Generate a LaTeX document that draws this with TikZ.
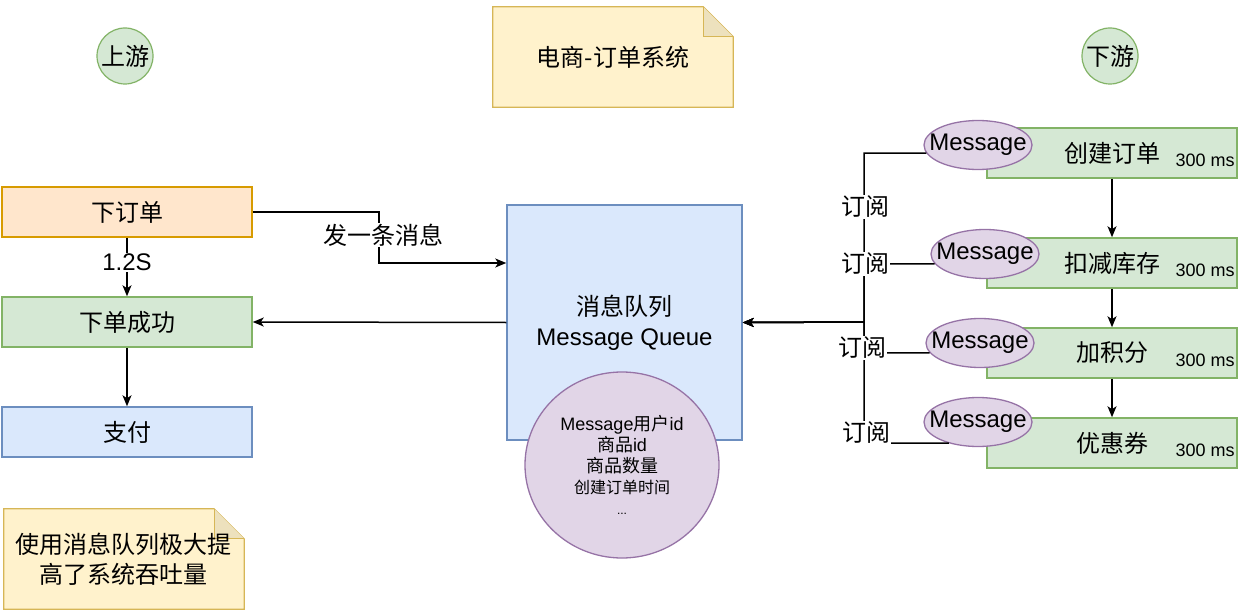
\documentclass[tikz,border=0pt]{standalone}
\usepackage{fontspec}
\setmainfont{Liberation Sans}
\newfontfamily\cjk{Noto Sans CJK SC}
\usetikzlibrary{positioning,calc,arrows.meta,backgrounds,shapes.geometric}
\definecolor{greenfill}{HTML}{D5E8D4}
\definecolor{greenline}{HTML}{82B366}
\definecolor{orangefill}{HTML}{FFE6CC}
\definecolor{orangeline}{HTML}{D79B00}
\definecolor{bluefill}{HTML}{DAE8FC}
\definecolor{blueline}{HTML}{6C8EBF}
\definecolor{purplefill}{HTML}{E1D5E7}
\definecolor{purpleline}{HTML}{9673A6}
\definecolor{notefill}{HTML}{FFF2CC}
\definecolor{noteline}{HTML}{D6B656}
\definecolor{foldfill}{HTML}{EDE1BD}
\newcommand{\fsbig}{\fontsize{24}{30}\selectfont}
\newcommand{\fsmid}{\fontsize{18}{21}\selectfont}
\tikzset{
  box/.style={draw, line width=1.5pt, minimum width=250pt, minimum height=50pt,
    inner sep=0pt, font=\fsbig\cjk},
  greenbox/.style={box, fill=greenfill, draw=greenline},
  orangebox/.style={box, fill=orangefill, draw=orangeline},
  bluebox/.style={box, fill=bluefill, draw=blueline},
  msgball/.style={ellipse, draw=purpleline, fill=purplefill, line width=1.3pt,
    minimum width=108pt, minimum height=49pt, inner xsep=-22pt, inner ysep=-2pt,
    font=\fsbig},
  tagball/.style={circle, draw=greenline, fill=greenfill, line width=1.2pt,
    minimum size=56pt, inner sep=0pt, font=\fsbig\cjk},
  notebox/.style={minimum width=240pt, minimum height=100pt, inner sep=0pt,
    align=center, font=\fsbig\cjk},
  flow/.style={line width=1.5pt, -{Stealth[length=11pt,width=9pt,inset=3pt]}},
  sublabel/.style={fill=white, inner sep=1pt, font=\fsbig\cjk},
  timelabel/.style={anchor=east, inner sep=0pt, font=\fsmid}
}

\begin{document}
\begin{tikzpicture}[x=1pt, y=-1pt]
  \useasboundingbox (0,0) rectangle (1245,615);

  % Upstream / downstream tags
  \node[tagball] (up) at (125,56) {上游};
  \node[tagball] (down) at (1110,56) {下游};

  % Notes
  \node[notebox] (title) at (613,57) {电商-订单系统};
  \node[notebox] (tip) at (124,559) {使用消息队列极大提\\高了系统吞吐量};
  \begin{scope}[on background layer]
    \foreach \n in {title,tip} {
      \filldraw[fill=notefill, draw=noteline, line width=1.2pt]
        (\n.south west) -- (\n.north west) -- ($(\n.north east)+(-30,0)$)
        -- ($(\n.north east)+(0,30)$) -- (\n.south east) -- cycle;
      \filldraw[fill=foldfill, draw=noteline, line width=1.2pt]
        ($(\n.north east)+(-30,0)$) -- ($(\n.north east)+(-30,30)$)
        -- ($(\n.north east)+(0,30)$);
    }
  \end{scope}

  % Upstream flow
  \node[orangebox] (order) at (127,212) {下订单};
  \node[greenbox] (ok) at (127,322) {下单成功};
  \node[bluebox] (pay) at (127,432) {支付};

  % Message queue
  \node[box, fill=bluefill, draw=blueline, minimum width=235pt,
    minimum height=235pt, align=center, font=\fsbig] (mq) at (624.5,322.5)
    {{\cjk 消息队列}\\Message Queue};
  \node[ellipse, draw=purpleline, fill=purplefill, line width=1.3pt,
    minimum width=194pt, minimum height=186pt, inner sep=0pt, align=center,
    font=\fsmid] (body) at (622,465)
    {Message{\cjk 用户}id\\{\cjk 商品}id\\{\cjk 商品数量}\\
     {\fontsize{16}{21}\selectfont\cjk 创建订单时间}\\{\fontsize{12}{20}\selectfont ...}};

  % Downstream consumers
  \node[greenbox] (create) at (1112,153) {创建订单};
  \node[greenbox] (stock) at (1112,263) {扣减库存};
  \node[greenbox] (points) at (1112,353) {加积分};
  \node[greenbox] (coupon) at (1112,443) {优惠券};
  \foreach \b/\t in {create/timeA, stock/timeB, points/timeC, coupon/timeD}
    \node[timelabel] (\t) at ($(\b.south east)+(-3,-18)$) {300 ms};

  \node[msgball] (msgA) at (978,145) {Message};
  \node[msgball] (msgB) at (985,254) {Message};
  \node[msgball] (msgC) at (980,343) {Message};
  \node[msgball] (msgD) at (978,422) {Message};

  % Upstream connectors
  \coordinate (sendbend) at (379,263);
  \draw[flow] (order.east) -| (sendbend) -- (sendbend -| mq.west);
  \node[sublabel] (sendlabel) at (383,235) {发一条消息};
  \draw[flow] (order) -- node[sublabel, pos=0.42, font=\fsbig] (delay) {1.2S} (ok);
  \draw[flow] (mq.west) -- (ok.east);
  \draw[flow] (ok) -- (pay);

  % Subscriptions
  \coordinate (bus) at (864,322);
  \draw[flow] (msgA.189) -| (bus) -- (mq.east);
  \draw[flow] (msgB.191) -| (bus) -- (mq.east);
  \draw[flow] (msgC.191) -| (bus) -- (mq.east);
  \draw[flow] (msgD.216) -| (bus) -- (mq.east);
  \node[sublabel] (subA) at (865,207) {订阅};
  \node[sublabel] (subB) at (865,264) {订阅};
  \node[sublabel] (subC) at (862,348) {订阅};
  \node[sublabel] (subD) at (866,433) {订阅};

  % Downstream chain
  \draw[flow] (create) -- (stock);
  \draw[flow] (stock) -- (points);
  \draw[flow] (points) -- (coupon);
\end{tikzpicture}
\end{document}
